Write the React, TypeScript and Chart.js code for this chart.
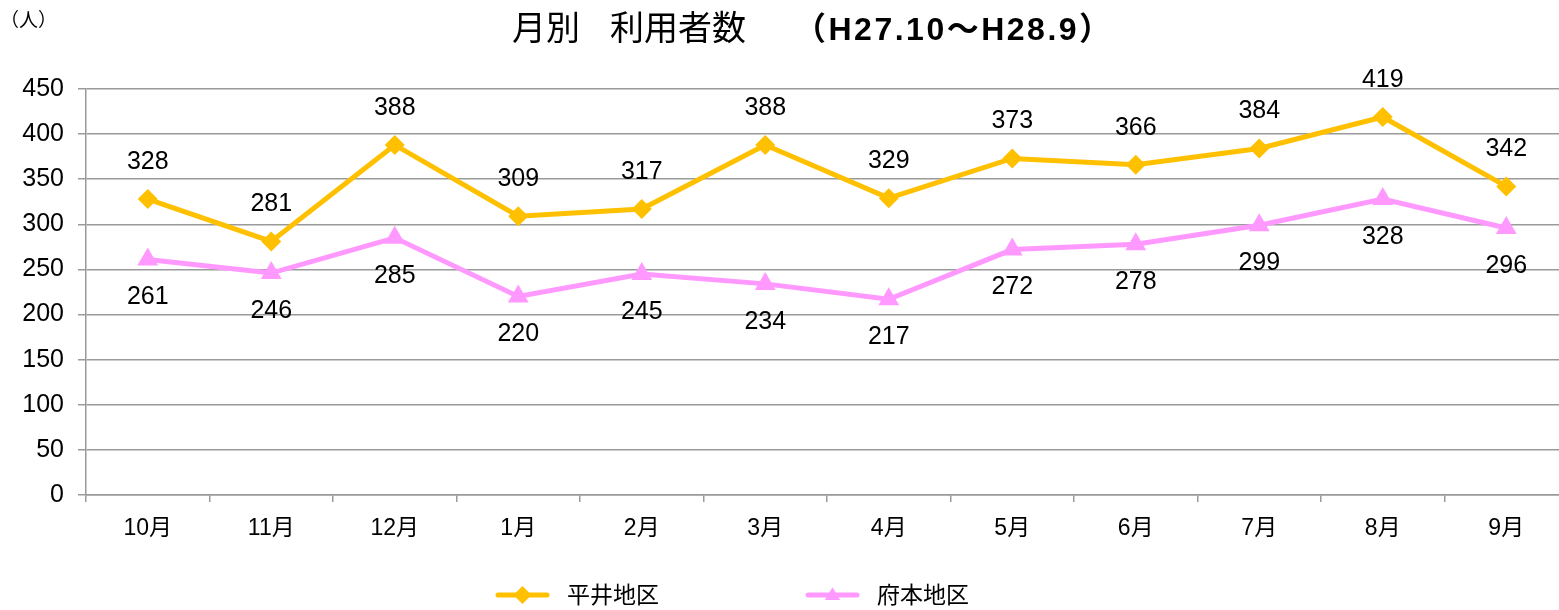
import React, { useEffect, useRef } from "react";
import { Chart, registerables } from "chart.js";

Chart.register(...registerables);

const categories = ["10月", "11月", "12月", "1月", "2月", "3月", "4月", "5月", "6月", "7月", "8月", "9月"];
const hirai = [328, 281, 388, 309, 317, 388, 329, 373, 366, 384, 419, 342];
const fumoto = [261, 246, 285, 220, 245, 234, 217, 272, 278, 299, 328, 296];
const seriesNames = ["平井地区", "府本地区"];
const titleParts = ["月別", "利用者数", "（H27.10～H28.9）"];
const unitLabel = "（人）";

const ORANGE = "#FFC000";
const PINK = "#FF99FF";
const FONT = "'Liberation Sans', Arial, 'Noto Sans CJK JP', sans-serif";
const GRID = "#9a9a9a";

function marker(ctx: CanvasRenderingContext2D, kind: number, x: number, y: number, r: number) {
  ctx.beginPath();
  if (kind === 0) {
    ctx.moveTo(x, y - r);
    ctx.lineTo(x + r, y);
    ctx.lineTo(x, y + r);
    ctx.lineTo(x - r, y);
  } else {
    ctx.moveTo(x, y - r * 0.85);
    ctx.lineTo(x + r * 0.85, y + r * 0.55);
    ctx.lineTo(x - r * 0.85, y + r * 0.55);
  }
  ctx.closePath();
  ctx.fill();
}

const decorPlugin = {
  id: "decor",
  afterDraw(chart: any) {
    const ctx = chart.ctx;
    ctx.save();
    ctx.fillStyle = "#000";
    ctx.textBaseline = "middle";
    ctx.textAlign = "left";
    ctx.font = `19px ${FONT}`;
    ctx.fillText(unitLabel, 0, 22);
    ctx.font = `34px ${FONT}`;
    ctx.fillText(titleParts[0], 512, 31);
    ctx.fillText(titleParts[1], 610, 31);
    ctx.font = `bold 32px ${FONT}`;
    (ctx as any).letterSpacing = "2.5px";
    ctx.fillText(titleParts[2], 794, 31);
    (ctx as any).letterSpacing = "0px";
    const colors = [ORANGE, PINK];
    const lx = [498, 808];
    const ly = 595;
    for (let i = 0; i < 2; i++) {
      ctx.strokeStyle = colors[i];
      ctx.lineWidth = 5;
      ctx.lineCap = "round";
      ctx.beginPath();
      ctx.moveTo(lx[i], ly);
      ctx.lineTo(lx[i] + 49, ly);
      ctx.stroke();
      ctx.fillStyle = colors[i];
      marker(ctx, i, lx[i] + 24.5, ly, 9);
      ctx.fillStyle = "#000";
      ctx.font = `23px ${FONT}`;
      ctx.fillText(seriesNames[i], lx[i] + 69, ly + 2);
    }
    ctx.restore();
  },
  afterDatasetsDraw(chart: any) {
    const ctx = chart.ctx;
    ctx.save();
    ctx.font = `25px ${FONT}`;
    ctx.fillStyle = "#000";
    ctx.textAlign = "center";
    ctx.textBaseline = "middle";
    chart.data.datasets.forEach((ds: any, di: number) => {
      const meta = chart.getDatasetMeta(di);
      meta.data.forEach((pt: any, i: number) => {
        const off = di === 0 ? -37 : 38;
        ctx.fillText(String(ds.data[i]), pt.x, pt.y + off);
      });
    });
    ctx.restore();
  },
};

export default function App() {
  const ref = useRef<HTMLCanvasElement | null>(null);
  useEffect(() => {
    if (!ref.current) return;
    const chart = new Chart(ref.current, {
      type: "line",
      data: {
        labels: categories,
        datasets: [
          {
            label: seriesNames[0],
            data: hirai,
            borderColor: ORANGE,
            backgroundColor: ORANGE,
            borderWidth: 5,
            pointStyle: "rectRot",
            pointRadius: 10,
            pointBorderWidth: 0,
            tension: 0,
          },
          {
            label: seriesNames[1],
            data: fumoto,
            borderColor: PINK,
            backgroundColor: PINK,
            borderWidth: 5,
            pointStyle: "triangle",
            pointRadius: 12,
            pointBorderWidth: 0,
            tension: 0,
          },
        ],
      },
      options: {
        responsive: false,
        animation: false,
        layout: { padding: { left: 0, right: 11, top: 89, bottom: 70 } },
        plugins: { legend: { display: false }, title: { display: false }, tooltip: { enabled: false } },
        scales: {
          x: {
            offset: true,
            grid: { drawOnChartArea: false, drawTicks: true, tickLength: 7, offset: true, color: GRID, lineWidth: 1.5 },
            border: { color: GRID, width: 1.5 },
            ticks: { color: "#000", font: { family: FONT, size: 23 }, padding: 13, maxRotation: 0 },
            afterFit(scale: any) {
              scale.height = 45;
            },
          },
          y: {
            min: 0,
            max: 450,
            ticks: { stepSize: 50, color: "#000", font: { family: FONT, size: 25 }, padding: 14 },
            grid: { color: GRID, lineWidth: 1.5, tickLength: 8 },
            border: { color: GRID, width: 1.5 },
            afterFit(scale: any) {
              scale.width = 86;
            },
          },
        },
      },
      plugins: [decorPlugin],
    } as any);
    return () => chart.destroy();
  }, []);
  return (
    <div style={{ position: "fixed", left: 0, top: 0, width: 1559, height: 610, overflow: "hidden", background: "#fff" }}>
      <canvas ref={ref} width={1580} height={610} style={{ width: 1580, height: 610, display: "block" }} />
    </div>
  );
}
